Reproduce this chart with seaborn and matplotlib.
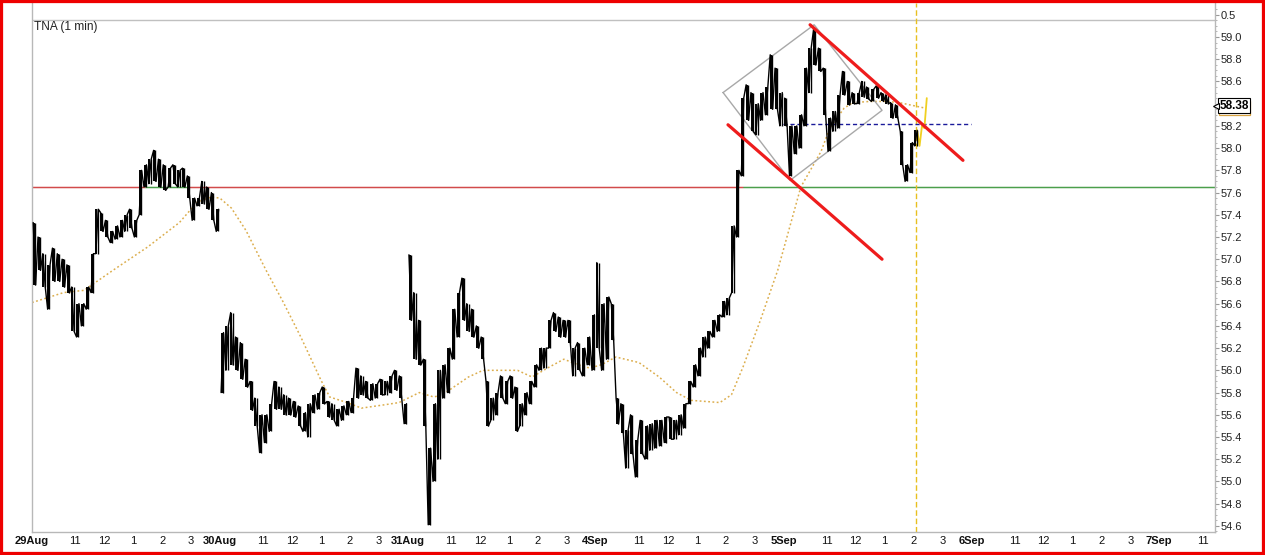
import numpy as np
import pandas as pd
import matplotlib
matplotlib.use("Agg")
import matplotlib.pyplot as plt
import matplotlib.transforms as mtransforms
from matplotlib.patches import Rectangle
import seaborn as sns

# sessions shown on the axis (6.5 trading hours each, 9:30 - 16:00)
day_labels = ["29Aug", "30Aug", "31Aug", "4Sep", "5Sep", "6Sep", "7Sep"]
hour_labels = ["11", "12", "1", "2", "3"]
session_len = 6.5

# TNA 10 minute highs / lows, one pair of lists per session
aug29_hi = [57.33, 57.20, 57.05, 56.95, 57.10, 57.05, 57.00, 56.95, 56.75, 56.60,
            56.60, 56.75, 57.05, 57.45, 57.42, 57.35, 57.25, 57.30, 57.35, 57.40,
            57.45, 57.35, 57.80, 57.85, 57.90, 57.98, 57.90, 57.85, 57.82, 57.85,
            57.80, 57.82, 57.75, 57.55, 57.55, 57.70, 57.65, 57.60, 57.45]
aug29_lo = [56.77, 56.90, 56.75, 56.55, 56.80, 56.80, 56.75, 56.70, 56.35, 56.30,
            56.40, 56.55, 56.70, 57.05, 57.25, 57.20, 57.15, 57.18, 57.20, 57.25,
            57.28, 57.20, 57.40, 57.65, 57.68, 57.70, 57.65, 57.62, 57.65, 57.68,
            57.65, 57.65, 57.55, 57.35, 57.48, 57.50, 57.45, 57.35, 57.25]
aug30_hi = [56.34, 56.40, 56.52, 56.30, 56.25, 56.10, 55.90, 55.75, 55.60, 55.60,
            55.70, 55.90, 55.85, 55.78, 55.75, 55.72, 55.68, 55.62, 55.70, 55.78,
            55.80, 55.85, 55.72, 55.70, 55.65, 55.68, 55.72, 55.75, 56.02, 55.95,
            55.90, 55.88, 55.88, 55.92, 55.90, 55.95, 56.00, 55.95, 55.70]
aug30_lo = [55.80, 56.00, 56.05, 56.00, 55.92, 55.85, 55.64, 55.50, 55.26, 55.35,
            55.45, 55.65, 55.65, 55.60, 55.60, 55.58, 55.50, 55.45, 55.40, 55.62,
            55.65, 55.70, 55.58, 55.55, 55.50, 55.55, 55.60, 55.62, 55.75, 55.78,
            55.75, 55.73, 55.75, 55.78, 55.78, 55.80, 55.82, 55.75, 55.52]
aug31_hi = [57.04, 56.70, 56.45, 56.10, 55.30, 55.70, 56.00, 56.05, 56.20, 56.55,
            56.70, 56.83, 56.60, 56.55, 56.40, 56.30, 55.90, 55.75, 55.80, 55.95,
            55.90, 55.95, 55.85, 55.70, 55.80, 55.90, 56.05, 56.20, 56.20, 56.45,
            56.52, 56.48, 56.45, 56.45, 56.20, 56.25, 56.20, 56.30, 56.50]
aug31_lo = [56.45, 56.10, 56.05, 55.50, 54.61, 55.00, 55.20, 55.75, 55.80, 56.10,
            56.30, 56.45, 56.35, 56.30, 56.20, 56.10, 55.50, 55.55, 55.60, 55.75,
            55.70, 55.75, 55.45, 55.50, 55.60, 55.70, 55.85, 56.00, 56.02, 56.20,
            56.35, 56.30, 56.30, 56.25, 55.95, 56.00, 55.95, 56.05, 56.00]
sep4_hi = [56.97, 56.60, 56.66, 56.60, 55.75, 55.70, 55.46, 55.60, 55.37, 55.55,
           55.50, 55.52, 55.55, 55.55, 55.58, 55.58, 55.55, 55.60, 55.70, 55.90,
           56.05, 56.20, 56.30, 56.35, 56.45, 56.50, 56.62, 56.65, 57.30, 57.80,
           58.45, 58.57, 58.50, 58.40, 58.50, 58.55, 58.84, 58.72, 58.50]
sep4_lo = [56.20, 56.00, 56.10, 56.27, 55.52, 55.44, 55.12, 55.25, 55.04, 55.25,
           55.20, 55.28, 55.30, 55.32, 55.35, 55.38, 55.38, 55.42, 55.48, 55.70,
           55.85, 55.95, 56.12, 56.20, 56.30, 56.35, 56.48, 56.50, 56.70, 57.20,
           57.75, 58.25, 58.15, 58.12, 58.25, 58.30, 58.35, 58.35, 58.20]
sep5_hi = [58.45, 58.20, 58.20, 58.30, 58.72, 58.90, 59.07, 58.90, 58.72, 58.27,
           58.33, 58.48, 58.69, 58.60, 58.50, 58.50, 58.60, 58.55, 58.53, 58.56,
           58.50, 58.48, 58.41, 58.39, 58.15, 57.85, 58.05, 58.16, 58.20, 58.45]
sep5_lo = [58.20, 57.75, 57.95, 58.00, 58.20, 58.50, 58.75, 58.69, 58.30, 57.97,
           58.15, 58.18, 58.48, 58.39, 58.40, 58.40, 58.46, 58.44, 58.42, 58.45,
           58.42, 58.40, 58.27, 58.27, 57.85, 57.70, 57.78, 58.02, 58.02, 58.18]
last_price = 58.38

# moving average (trading hours since the 29Aug open, value)
ma_hours = [0.0, 1.1, 1.8, 2.8, 4.0, 5.1, 5.7, 6.2, 6.5, 6.9, 7.4, 8.1, 8.7, 9.3,
            10.0, 10.3, 10.9, 11.4, 12.2, 12.7, 13.4, 13.9, 14.2, 15.1, 15.6, 16.8,
            17.3, 17.9, 18.4, 18.9, 19.3, 19.7, 20.2, 21.0, 21.7, 22.3, 22.8, 23.8,
            24.2, 24.6, 25.2, 25.8, 26.6, 27.3, 27.6, 28.1, 28.4, 29.0, 29.6, 30.0, 30.9]
ma_vals = [56.61, 56.70, 56.72, 56.90, 57.11, 57.33, 57.51, 57.56, 57.55, 57.46,
           57.26, 56.90, 56.61, 56.30, 55.91, 55.76, 55.71, 55.66, 55.69, 55.71,
           55.80, 55.76, 55.78, 55.94, 56.00, 56.00, 55.94, 56.03, 56.10, 56.05,
           56.02, 56.05, 56.12, 56.07, 55.94, 55.80, 55.73, 55.71, 55.78, 56.03,
           56.45, 56.90, 57.65, 57.97, 58.18, 58.36, 58.41, 58.42, 58.42, 58.41, 58.36]

# drawn studies: level, support, time marker, channel lines and diamond
level = 57.65
support = 58.22
marker_hour = 30.6
upper_h, upper_p = [26.92, 32.21], [59.11, 57.89]
lower_h, lower_p = [24.08, 29.41], [58.21, 57.00]
diamond_h = [23.91, 27.06, 29.41, 26.23, 23.91]
diamond_p = [58.50, 59.11, 58.34, 57.71, 58.50]

sessions = [(aug29_hi, aug29_lo), (aug30_hi, aug30_lo), (aug31_hi, aug31_lo),
            (sep4_hi, sep4_lo), (sep5_hi, sep5_lo)]

sns.set_style("white")
plt.rcParams["font.family"] = ["Liberation Sans", "DejaVu Sans"]

x_end = 40.93
fig = plt.figure(figsize=(12.65, 5.55), dpi=100)
ax = fig.add_axes([32 / 1265, 23 / 555, 1183 / 1265, 529 / 555])
ax.set_xlim(0, x_end)
ax.set_ylim(54.545, 59.306)

# bars table
rows = []
for d, (hi, lo) in enumerate(sessions):
    for k in range(len(hi)):
        rows.append({"day": d, "t": d * session_len + (k + 0.5) / 6, "hi": hi[k], "lo": lo[k]})
bars = pd.DataFrame(rows)
bars["mid"] = (bars["hi"] + bars["lo"]) / 2
bars["above"] = bars["mid"] > level

# level line: green while the latest price is above it, red otherwise
grid = pd.DataFrame({"t": np.arange(0, x_end + 1 / 60, 1 / 60)})
state = pd.merge_asof(grid, bars[["t", "above"]], on="t", direction="backward")
state["above"] = state["above"].astype(object).fillna(bars["above"].iloc[0]).astype(bool)
seg_x = state["t"].values
seg_col = np.where(state["above"].values[:-1], "#118011", "#c41010")
ax.hlines(np.full(len(seg_x) - 1, level), seg_x[:-1], seg_x[1:], colors=seg_col,
          lw=1.0, zorder=1)

# moving average
sns.lineplot(x=ma_hours, y=ma_vals, ax=ax, color="#dcae4e", lw=1.1,
             linestyle=(0, (1.2, 1.6)), estimator=None, sort=False, zorder=2)

# price: a high/low stroke per bar, joined by a zigzag through the extremes
for d, g in bars.groupby("day"):
    t = g["t"].values
    hi = g["hi"].values
    lo = g["lo"].values
    mid = g["mid"].values
    up = np.r_[mid[1:] > mid[:-1], True]
    first = np.where(up, lo, hi)
    second = np.where(up, hi, lo)
    xs = np.column_stack([t - 1 / 24, t + 1 / 24]).ravel()
    ys = np.column_stack([first, second]).ravel()
    n_black = len(t)
    if d == len(sessions) - 1:
        n_black = int(np.searchsorted(t, marker_hour + 0.1))
        cut = 2 * n_black
        sns.lineplot(x=xs[cut - 1:], y=ys[cut - 1:], ax=ax, color="#f0d020", lw=1.3,
                     estimator=None, sort=False, zorder=3)
        xs, ys = xs[:cut], ys[:cut]
    ax.vlines(t[:n_black] - 1 / 48, lo[:n_black], hi[:n_black], color="black", lw=1.4, zorder=3)
    ax.vlines(t[:n_black] + 1 / 48, lo[:n_black], hi[:n_black], color="black", lw=1.0, zorder=3)
    sns.lineplot(x=xs, y=ys, ax=ax, color="black", lw=1.0,
                 estimator=None, sort=False, zorder=3)

# studies
ax.axhline(59.153, color="#c0c0c0", lw=1.0, zorder=1)
ax.plot(diamond_h, diamond_p, color="#a8a8a8", lw=1.0, zorder=2.5)
ax.plot(upper_h, upper_p, color="#ee1c1c", lw=2.3, zorder=4)
ax.plot(lower_h, lower_p, color="#ee1c1c", lw=2.3, zorder=4)
ax.hlines(support, 4 * session_len, 5 * session_len, color="#1a1a9a", lw=1.0,
          linestyles=(0, (3, 2)), zorder=2.5)
ax.axvline(marker_hour, color="#e8c020", lw=1.0, linestyle=(0, (4, 2)), zorder=2)

ax.text(0.08, 59.09, "TNA (1 min)", fontsize=8.6, color="#222222", va="center")

# x axis: session starts bold, hours regular
xt, xl = [], []
for d, lab in enumerate(day_labels):
    xt.append(d * session_len)
    xl.append(lab)
    for h, hl in enumerate(hour_labels):
        pos = d * session_len + 1.5 + h
        if pos < x_end:
            xt.append(pos)
            xl.append(hl)
ax.set_xticks(xt)
ax.set_xticklabels(xl)
for lab in ax.get_xticklabels():
    if lab.get_text() in day_labels:
        lab.set_fontweight("bold")
ax.tick_params(axis="x", length=0, pad=3, labelsize=8, colors="#111111")

# y axis on the right; the 58.4 label sits under the last price tag
yt = list(np.round(np.arange(54.6, 59.01, 0.2), 1)) + [59.2]
ylabs = ["" if abs(v - last_price) < 0.1 else f"{v:.1f}" for v in yt[:-1]] + ["0.5"]
ax.yaxis.tick_right()
ax.set_yticks(yt)
ax.set_yticklabels(ylabs)
ax.set_yticks(np.arange(54.55, 59.3, 0.05), minor=True)
ax.tick_params(axis="y", which="major", length=3, width=0.8, color="#999999",
               pad=1, labelsize=8, labelcolor="#222222")
ax.tick_params(axis="y", which="minor", length=1.5, width=0.6, color="#aaaaaa")
ax.set_xlabel("")
ax.set_ylabel("")

for side in ["left", "bottom", "right"]:
    ax.spines[side].set_color("#b8b8b8")
    ax.spines[side].set_linewidth(1.0)
ax.spines["top"].set_visible(False)

# last price tag, with the average's tag peeking out behind it
blend = mtransforms.blended_transform_factory(ax.transAxes, ax.transData)
ax.add_patch(Rectangle((1.0035, last_price - 0.085), 0.0265, 0.125, transform=blend,
                       fc="white", ec="#d9a441", lw=0.9, clip_on=False, zorder=5))
ax.text(1.0035, last_price, f"{last_price:.2f}", transform=blend, fontsize=8.5,
        fontweight="bold", color="black", va="center", ha="left", clip_on=False, zorder=6,
        bbox=dict(boxstyle="square,pad=0.12", fc="white", ec="black", lw=0.8))
ax.plot([1.0012], [last_price], transform=blend, marker="<", ms=4.5, mfc="white",
        mec="black", mew=0.8, clip_on=False, zorder=7)

fig.patches.append(Rectangle((0, 0), 1, 1, transform=fig.transFigure, fill=False,
                             ec="#ee0000", lw=4.5, zorder=10))

fig.savefig("out.png", dpi=100)
